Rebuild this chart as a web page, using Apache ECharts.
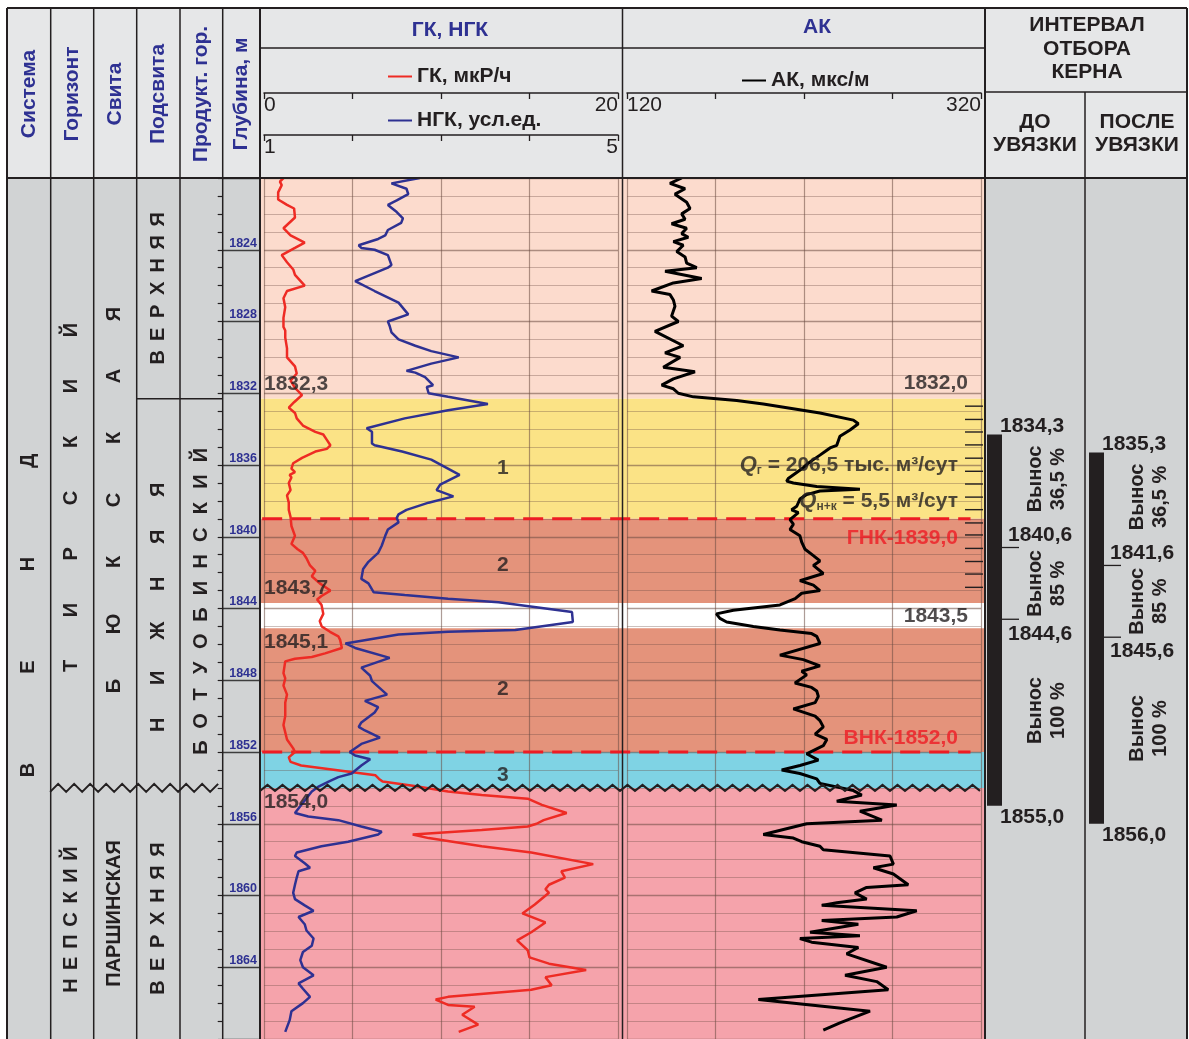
<!DOCTYPE html>
<html><head><meta charset="utf-8">
<script src="https://cdn.jsdelivr.net/npm/echarts@6/dist/echarts.min.js"></script>
<style>html,body{margin:0;padding:0;background:#fff}#c{width:1189px;height:1039px}</style>
</head><body><div id="c"></div>
<script>
// ---------------- DATA ----------------
const depthMin = 1820, depthMax = 1868;
const gkRange = [0, 20], ngkRange = [1, 5], akRange = [120, 320];

// [depth, value]
const gkCurve = [[1820.0,1.1],[1820.2,0.9],[1820.4,1.0],[1820.8,0.8],[1821.2,0.8],[1821.5,1.3],[1821.7,1.7],[1822.2,1.75],[1822.8,1.1],[1823.2,1.5],[1823.6,2.3],[1823.9,1.75],[1824.3,1.0],[1824.7,1.3],[1825.1,1.65],[1825.4,1.75],[1826.0,2.3],[1826.3,1.3],[1826.7,1.1],[1827.2,1.2],[1827.8,1.1],[1828.3,1.1],[1828.5,1.2],[1828.9,1.2],[1829.5,1.3],[1830.0,1.3],[1830.5,1.75],[1830.9,1.85],[1831.3,1.5],[1831.7,1.75],[1832.1,2.15],[1832.5,1.7],
[1832.8,1.4],[1833.1,1.75],[1833.4,1.85],[1833.8,2.2],[1834.15,2.9],[1834.3,3.35],[1834.6,3.55],[1834.9,3.75],[1835.1,3.55],[1835.25,2.9],[1835.6,2.15],[1835.9,1.65],[1836.2,1.55],[1836.4,1.75],[1836.55,1.45],[1836.7,1.55],[1837.0,1.4],[1837.4,1.5],[1837.7,1.3],[1838.1,1.4],[1838.5,1.4],[1838.9,1.5],[1839.4,1.55],[1839.95,1.75],[1840.4,1.55],[1840.7,1.9],[1840.9,2.2],[1841.2,2.4],[1841.6,2.6],[1841.9,2.9],[1842.2,2.7],[1842.6,3.15],[1843.0,3.75],[1843.3,3.25],[1843.5,3.0],[1843.8,3.25],[1844.3,3.35],[1844.7,3.15],
[1845.0,3.26],[1845.3,3.73],[1845.55,4.2],[1845.75,4.3],[1846.2,4.4],[1846.5,3.45],[1846.7,2.7],[1846.8,1.75],[1846.95,1.2],[1847.6,1.1],[1847.9,1.2],[1848.3,1.1],[1848.8,1.3],[1849.25,1.2],[1850.0,1.2],[1850.5,1.1],[1851.3,1.3],[1851.8,1.65],[1852.0,1.75],[1852.3,1.4],[1852.55,1.5],[1852.75,2.1],[1853.1,4.8],[1853.3,6.3],[1853.5,6.5],[1853.65,6.7],[1853.9,8.5],[1854.2,10.4],[1854.4,12.3],[1854.6,14.9],[1854.95,15.7],[1855.4,17.1],[1855.8,15.8],[1856.0,15.4],[1856.15,14.9],[1856.35,12.3],[1856.6,8.4],[1856.8,9.3],[1857.25,12.3],[1857.6,15.1],[1858.25,18.6],[1858.65,16.8],[1859.0,17.0],[1859.4,16.1],[1859.65,15.9],[1859.85,16.1],[1860.5,15.3],[1861.0,14.6],[1861.5,15.9],[1862.05,15.1],[1862.5,14.3],[1863.05,14.9],[1863.45,15.0],[1863.8,16.1],[1864.15,18.2],[1864.55,15.9],[1865.0,16.25],[1865.25,15.1],[1865.65,10.4],[1865.8,9.7],[1866.1,10.4],[1866.2,11.9],[1866.65,11.2],[1867.2,12.1],[1867.6,11.0]];

const ngkCurve = [[1820.0,2.76],[1820.3,2.44],[1820.6,2.61],[1820.9,2.63],[1821.25,2.5],[1821.5,2.4],[1821.9,2.5],[1822.25,2.57],[1822.5,2.55],[1822.9,2.4],[1823.2,2.37],[1823.4,2.29],[1823.75,2.07],[1823.9,2.1],[1824.0,2.25],[1824.3,2.4],[1824.85,2.44],[1825.0,2.4],[1825.75,2.03],[1826.3,2.25],[1826.95,2.52],[1827.6,2.63],[1828.0,2.4],[1828.25,2.42],[1828.6,2.44],[1829.0,2.52],[1829.35,2.71],[1829.65,2.89],[1830.0,3.2],[1830.35,2.89],[1830.75,2.61],[1830.85,2.71],[1831.1,2.82],[1831.55,2.91],[1831.65,2.84],[1832.0,2.86],[1832.2,3.08],[1832.6,3.53],[1832.95,3.08],[1833.4,2.59],[1833.95,2.16],[1834.15,2.22],[1834.8,2.22],[1834.9,2.25],[1835.25,2.56],[1835.7,2.89],[1836.55,3.21],[1837.1,2.99],[1837.4,2.95],[1837.75,3.14],[1838.1,2.86],[1838.5,2.61],[1838.75,2.52],[1838.95,2.5],[1839.2,2.52],[1839.6,2.4],[1839.95,2.37],[1840.5,2.33],[1840.9,2.29],[1841.4,2.18],[1841.8,2.12],[1842.35,2.1],[1842.6,2.18],[1843.1,2.24],[1843.25,2.59],[1843.45,3.08],[1843.65,3.65],[1844.2,4.48],[1844.75,4.49],[1845.2,3.84],[1845.3,3.08],[1845.45,2.52],[1845.95,1.92],[1846.2,2.03],[1846.75,2.42],[1847.3,2.1],[1847.75,2.2],[1848.05,2.22],[1848.8,2.39],[1849.15,2.14],[1849.5,2.29],[1849.8,2.25],[1850.35,2.1],[1850.6,2.07],[1850.8,2.14],[1851.2,2.31],[1851.55,2.1],[1852.0,1.97],[1852.2,2.03],[1852.4,2.2],[1852.75,2.1],[1853.2,1.99],[1853.4,1.84],[1853.65,1.73],[1853.95,1.61],[1854.2,1.54],[1854.7,1.46],[1855.4,1.35],[1855.6,1.5],[1855.8,1.84],[1856.15,2.1],[1856.45,2.33],[1856.6,2.29],[1857.0,1.95],[1857.25,1.65],[1857.6,1.37],[1857.8,1.35],[1858.2,1.46],[1858.45,1.52],[1858.65,1.39],[1859.0,1.37],[1859.4,1.35],[1859.85,1.33],[1860.2,1.35],[1860.55,1.46],[1860.85,1.56],[1861.2,1.39],[1861.6,1.46],[1861.95,1.48],[1862.4,1.56],[1862.8,1.54],[1863.15,1.44],[1863.6,1.41],[1864.0,1.44],[1864.45,1.56],[1864.9,1.39],[1865.2,1.44],[1865.65,1.52],[1866.0,1.44],[1866.45,1.31],[1866.95,1.29],[1867.6,1.24]];

const akCurve = [[1820.0,150.9],[1820.3,144.3],[1820.6,152.8],[1820.9,147.1],[1821.35,153.7],[1821.7,155.6],[1822.0,150.9],[1822.3,152.8],[1822.55,145.2],[1822.8,153.7],[1823.1,150.9],[1823.3,154.6],[1823.55,146.2],[1823.75,151.8],[1824.1,148.1],[1824.4,152.8],[1824.75,153.7],[1825.0,159.4],[1825.2,141.5],[1825.6,162.2],[1825.85,146.2],[1826.3,133.9],[1826.5,144.3],[1826.8,146.2],[1827.15,147.1],[1827.7,145.2],[1828.0,149.0],[1828.55,135.8],[1829.35,151.8],[1829.75,141.5],[1830.0,150.0],[1830.55,140.5],[1830.8,158.4],[1831.2,146.2],[1831.55,139.6],[1831.75,146.2],[1832.0,149.0],[1832.2,157.5],[1832.4,182.0],[1832.6,197.0],
[1833.1,229.0],[1833.5,247.9],[1833.7,250.7],[1834.05,246.0],[1834.4,240.3],[1834.9,238.5],[1835.05,234.7],[1835.25,231.9],[1835.45,229.0],[1835.7,225.3],[1835.9,222.4],[1836.15,219.6],[1836.75,211.1],[1836.9,210.2],[1837.0,214.0],[1837.2,227.2],[1837.35,251.6],[1837.45,229.0],[1837.65,221.5],[1837.9,217.7],[1838.3,215.9],[1838.5,213.0],[1838.65,216.8],[1839.05,212.1],[1839.3,214.0],[1839.6,212.1],[1839.95,217.7],[1840.3,218.7],[1840.7,220.6],[1841.05,225.3],[1841.35,229.0],[1841.6,225.3],[1842.05,230.9],[1842.45,217.7],[1842.7,225.3],[1843.0,229.0],[1843.15,218.7],[1843.45,215.0],[1843.8,206.4],[1844.1,180.1],[1844.3,170.5],[1844.55,172.5],[1844.75,176.3],
[1845.0,191.4],[1845.2,206.4],[1845.4,224.3],[1845.55,227.2],[1845.95,229.0],[1846.6,206.4],[1846.85,219.6],[1847.2,229.0],[1847.5,218.7],[1847.7,221.5],[1848.15,214.9],[1848.4,224.3],[1848.6,227.2],[1848.9,228.1],[1849.25,226.3],[1849.6,214.0],[1850.0,226.3],[1850.25,229.0],[1850.6,230.9],[1851.0,226.3],[1851.3,232.9],[1851.65,230.9],[1852.1,221.5],[1852.45,228.1],[1852.75,217.7],[1853.0,207.4],[1853.2,217.7],[1853.5,227.2],[1853.75,229.0],[1854.15,247.9],[1854.4,252.6],[1854.75,238.5],[1854.95,272.4],[1855.3,251.6],[1855.8,264.0],[1856.0,221.5],[1856.6,197.0],[1856.8,214.0],[1857.0,218.7],[1857.25,229.0],[1857.45,230.9],[1857.8,268.6],[1858.25,270.5],[1858.45,259.2],[1858.8,270.5],[1859.4,278.9],[1859.55,255.4],[1859.85,248.8],[1860.2,255.4],[1860.4,238.5],[1860.55,230.0],[1860.85,283.7],[1861.2,272.4],[1861.4,230.0],[1861.6,250.7],[1862.05,223.4],[1862.25,251.6],[1862.4,217.7],[1862.6,224.3],[1862.9,250.7],[1863.25,244.1],[1864.0,266.7],[1864.45,243.2],[1864.8,261.1],[1865.25,267.6],[1865.8,194.2],[1866.45,257.3],[1867.1,240.3],[1867.5,230.9]];

// lithology / saturation zones [top, bottom, kind]
const zones = [[1820,1832.3,'cap'],[1832.3,1839.0,'gas'],[1839.0,1843.7,'oil'],[1843.7,1845.1,'tight'],[1845.1,1852.0,'oil'],[1852.0,1854.0,'water'],[1854.0,1868,'lower']];
const unconformityDepth = 1854.0;
const fluidContacts = [['ГНК', 1839.0], ['ВНК', 1852.0]];
const gkMarksAbove = [1832.3, 1843.7];
const gkMarksBelow = [1845.1, 1854.0];
const akMarksAbove = [1832.0];
const akMarksBelow = [1843.5];
const layerNames = ['1', '2', '2', '3'];
const layerDepths = [1836.2, 1841.6, 1848.5, 1853.3];
const flowRates = [['г', '206,5 тыс. м³/сут', 1836.0], ['н+к', '5,5 м³/сут', 1838.0]];
const rulerTicks = [1832.72, 1833.46, 1834.16, 1834.88, 1835.62, 1836.35, 1837.06, 1837.79, 1838.49, 1839.23, 1839.9, 1840.65, 1841.38, 1842.08, 1842.82];

// stratigraphy [column, top, bottom, name]
const stratUnits = [
  [0, 1820, 1868, 'ВЕНД'],
  [1, 1820, 1854.0, 'ТИРСКИЙ'], [1, 1854.0, 1868, 'НЕПСКИЙ'],
  [2, 1820, 1854.0, 'БЮКСКАЯ'], [2, 1854.0, 1868, 'ПАРШИНСКАЯ'],
  [3, 1820, 1832.3, 'ВЕРХНЯЯ'], [3, 1832.3, 1854.0, 'НИЖНЯЯ'], [3, 1854.0, 1868, 'ВЕРХНЯЯ'],
  [4, 1832.3, 1854.0, 'БОТУОБИНСКИЙ']
];
const headerColumns = ['Система', 'Горизонт', 'Свита', 'Подсвита', 'Продукт. гор.', 'Глубина, м'];

// core intervals
const coreBefore = [1834.3, 1840.6, 1844.6, 1855.0];
const coreAfter = [1835.3, 1841.6, 1845.6, 1856.0];
const coreRecovery = ['36,5 %', '85 %', '100 %'];

// ---------------- STYLE ----------------
const F = '"Liberation Sans", Arial, Helvetica, sans-serif';
const INK = '#231f20', BLUE = '#2e3192', RED = '#ee2b24';
const zoneColors = {cap:'#fcdbcd', gas:'#fbe386', oil:'#e4937b', tight:'#ffffff', water:'#7fd3e4', lower:'#f5a3ab'};
const letterSpacing = [103, 56, 22, 62, 0, 23, 47, 23, 26.6];
const letterShift = [7, 15, 6, 17, 0, 0, 14, 5, 8];
const recoveryShift = [-12, 0, -2];
const fmt = d => d.toFixed(1).replace('.', ',');
const gridLine = 'rgba(105,75,65,0.55)';
const gridLineMinor = 'rgba(105,75,65,0.35)';

function T(text, x, y, o) {
  o = o || {};
  const align = o.align || 'center', va = o.va || 'middle';
  return {type:'text', x:x, y:y, rotation:o.rot || 0, z:o.z == null ? 60 : o.z,
    style:{text:text, fill:o.color || INK, font:(o.weight || 'bold') + ' ' + (o.size || 20) + 'px ' + F,
      align:align, verticalAlign:va, textAlign:align, textVerticalAlign:va, lineHeight:o.lh}};
}
function L(x1, y1, x2, y2, w) {
  return {type:'line', z:50, shape:{x1:x1, y1:y1, x2:x2, y2:y2}, style:{stroke:INK, lineWidth:w || 1.5}};
}

// ---------------- LAYOUT GRAPHICS ----------------
const g = [];
g.push({type:'rect', z:-10, shape:{x:7, y:8, width:1180, height:170}, style:{fill:'#e6e7e8'}});
g.push({type:'rect', z:-10, shape:{x:7, y:178, width:253, height:870}, style:{fill:'#d1d3d4'}});
g.push({type:'rect', z:-10, shape:{x:985, y:178, width:202, height:870}, style:{fill:'#d1d3d4'}});
[50.7, 93.7, 136.7, 180, 222.7].forEach(x => g.push(L(x, 8, x, 1045, 1.5)));
g.push(L(7, 8, 7, 1045, 2));
g.push(L(260, 8, 260, 1045, 2));
g.push(L(622.5, 8, 622.5, 1045, 1.5));
g.push(L(985, 8, 985, 1045, 2));
g.push(L(1187, 8, 1187, 1045, 2));
g.push(L(1085, 92, 1085, 1045, 1.5));
g.push(L(7, 8, 1187, 8, 2));
g.push(L(7, 178, 1187, 178, 2));
g.push(L(260, 48, 985, 48, 1.5));
g.push(L(985, 92, 1187, 92, 1.5));
const hx = [29, 72, 115, 158, 201, 241];
headerColumns.forEach((t, i) => g.push(T(t, hx[i], 94, {rot:Math.PI/2, color:BLUE, size:21})));
g.push(T('ГК, НГК', 450, 30, {color:BLUE, size:21}));
g.push(T('АК', 817, 27, {color:BLUE, size:21}));
g.push(T('ИНТЕРВАЛ\nОТБОРА\nКЕРНА', 1087, 49, {size:21, lh:23.5}));
g.push(T('ДО\nУВЯЗКИ', 1035, 134, {size:21, lh:23}));
g.push(T('ПОСЛЕ\nУВЯЗКИ', 1137, 134, {size:21, lh:23}));

// ---------------- CHART ----------------
const chart = echarts.init(document.getElementById('c'), null, {renderer:'canvas'});
const H = 869, TOP = 178;
const yAx = (gi, extra) => Object.assign({gridIndex:gi, type:'value', inverse:true, min:depthMin, max:depthMax, interval:4,
  axisLine:{show:false}, axisTick:{show:false}, axisLabel:{show:false}, splitLine:{show:false}}, extra || {});
const hideX = (gi, max) => ({gridIndex:gi, type:'value', min:0, max:max, show:false});
const scaleX = (gi, range, interval, offset, split) => ({gridIndex:gi, type:'value', min:range[0], max:range[1], interval:interval,
  position:'top', offset:offset,
  axisLine:{show:true, onZero:false, lineStyle:{color:INK, width:1.5}},
  axisTick:{show:true, inside:true, length:6, lineStyle:{color:INK, width:1.3}},
  axisLabel:{inside:true, margin:2, fontSize:21, fontFamily:F, color:INK,
    formatter:v => (v === range[0] || v === range[1]) ? String(v) : '', alignMinLabel:'left', alignMaxLabel:'right'},
  splitLine:{show:split, lineStyle:{color:gridLine, width:1.2}}});

const trackY = gi => yAx(gi, {splitLine:{show:true, lineStyle:{color:gridLine, width:1.3}},
  minorTick:{show:false, splitNumber:4}, minorSplitLine:{show:true, lineStyle:{color:gridLineMinor, width:1}}});

function zigzag(params, api) {
  const a = api.coord([api.value(0), api.value(2)]), b = api.coord([api.value(1), api.value(2)]);
  const period = params.seriesIndex === 0 ? 16 : 15, amp = params.seriesIndex === 0 ? 4 : 3;
  const pts = [];
  let i = 0;
  for (let x = a[0]; x <= b[0] + 0.1; x += period / 2, i++) pts.push([x, a[1] + (i % 2 ? -amp : amp)]);
  return {type:'polyline', shape:{points:pts}, style:{stroke:INK, lineWidth:2, fill:null}, z2:10};
}

const labelItem = (x, d, text, pos, align, va, extra) => ({value:[x, d], label:Object.assign({show:true, formatter:text,
  position:pos, align:align, verticalAlign:va, fontFamily:F, fontWeight:'bold', fontSize:21, color:INK}, extra || {})});

const gkLabels = []
  .concat(gkMarksAbove.map(d => labelItem(gkRange[0], d, fmt(d), [0, -4], 'left', 'bottom')))
  .concat(gkMarksBelow.map(d => labelItem(gkRange[0], d, fmt(d), [0, 4], 'left', 'top')))
  .concat(layerNames.map((n, i) => labelItem(13.5, layerDepths[i], n, [0, 0], 'center', 'middle')));

const akLabels = []
  .concat(akMarksAbove.map(d => labelItem(akRange[1], d, fmt(d), [-13, 1], 'right', 'bottom')))
  .concat(akMarksBelow.map(d => labelItem(akRange[1], d, fmt(d), [-13, 6], 'right', 'top')))
  .concat(fluidContacts.map(c => labelItem(akRange[1], c[1], c[0] + '-' + fmt(c[1]),
    c[0] === 'ГНК' ? [-23, 9] : [-23, -3], 'right', c[0] === 'ГНК' ? 'top' : 'bottom', {color:'#ed1c24'})))
  .concat(flowRates.map(q => labelItem(akRange[1], q[2], '{q|Q}{s|' + q[0] + '}{t| = ' + q[1] + '}', [-23, 0], 'right', 'middle',
    {rich:{q:{fontFamily:F, fontWeight:'bold', fontStyle:'italic', fontSize:22, color:INK, lineHeight:24},
           s:{fontFamily:F, fontWeight:'bold', fontSize:12, color:INK, verticalAlign:'bottom', lineHeight:24, padding:[12,0,0,0]},
           t:{fontFamily:F, fontWeight:'bold', fontSize:21, color:INK, lineHeight:24}}})));

const legendText = {fontFamily:F, fontWeight:'bold', fontSize:21, color:INK};
const option = {
  animation:false,
  textStyle:{fontFamily:F},
  graphic:{elements:g},
  legend:[
    {data:['ГК, мкР/ч'], left:388, top:66, padding:0, icon:'rect', itemWidth:24, itemHeight:2, itemGap:0, selectedMode:false, textStyle:legendText},
    {data:['НГК, усл.ед.'], left:388, top:110, padding:0, icon:'rect', itemWidth:24, itemHeight:2, itemGap:0, selectedMode:false, textStyle:legendText},
    {data:['АК, мкс/м'], left:742, top:70, padding:0, icon:'rect', itemWidth:24, itemHeight:2, itemGap:0, selectedMode:false, textStyle:legendText}
  ],
  grid:[
    {left:7, top:TOP, width:215.7, height:H},
    {left:222.7, top:TOP, width:37.3, height:H},
    {left:260, top:TOP, width:725, height:H},
    {left:264, top:TOP, width:354, height:H},
    {left:627, top:TOP, width:354, height:H},
    {left:985, top:TOP, width:202, height:H}
  ],
  xAxis:[
    hideX(0, 5), hideX(1, 1), hideX(2, 1),
    scaleX(3, gkRange, 5, 85, true),
    scaleX(3, ngkRange, 1, 43, false),
    scaleX(4, akRange, 50, 85, true),
    hideX(5, 2)
  ],
  yAxis:[
    yAx(0),
    yAx(1, {position:'right',
      axisTick:{show:true, inside:true, length:5, lineStyle:{color:INK, width:1.2}},
      minorTick:{show:true, splitNumber:4, length:5, lineStyle:{color:INK, width:1.2}},
      splitLine:{show:true, lineStyle:{color:'#3d3d3d', width:1.3}},
      axisLabel:{show:true, inside:true, margin:3, verticalAlign:'bottom', color:BLUE, fontWeight:'bold', fontSize:12.5, fontFamily:F,
        showMinLabel:false, showMaxLabel:false, formatter:v => (v % 4 === 0 ? String(v) : '')}}),
    yAx(2), trackY(3), trackY(4), yAx(5)
  ],
  series:[
    {type:'custom', name:'zigStrat', xAxisIndex:0, yAxisIndex:0, z:8, silent:true, data:[[1, 5, unconformityDepth]], renderItem:zigzag},
    {type:'custom', name:'strat', xAxisIndex:0, yAxisIndex:0, z:6, silent:true, data:stratUnits.map(u => [u[0], u[1]]),
      renderItem:function(params, api){
        const k = params.dataIndex, u = stratUnits[k];
        const a = api.coord([u[0], u[1]]), b = api.coord([u[0] + 1, u[2]]);
        const cx = (a[0] + b[0]) / 2, cy = (a[1] + b[1]) / 2 + letterShift[k];
        const ch = [];
        if (u[1] > depthMin && u[1] !== unconformityDepth)
          ch.push({type:'line', shape:{x1:a[0], y1:a[1], x2:b[0], y2:a[1]}, style:{stroke:INK, lineWidth:1.5}});
        const sp = letterSpacing[k];
        if (!sp) ch.push(T(u[3], cx, cy, {rot:Math.PI/2, size:20}));
        else {
          const n = u[3].length;
          for (let i = 0; i < n; i++) ch.push(T(u[3][i], cx, cy + ((n - 1) / 2 - i) * sp, {rot:Math.PI/2, size:20}));
        }
        return {type:'group', children:ch};
      }},
    {type:'custom', name:'zones', xAxisIndex:2, yAxisIndex:2, z:-5, silent:true, data:zones.map(z => [z[0], z[1]]),
      renderItem:function(params, api){
        const a = api.coord([0, api.value(0)]), b = api.coord([1, api.value(1)]);
        return {type:'rect', shape:{x:a[0], y:a[1], width:b[0] - a[0], height:b[1] - a[1]},
          style:{fill:zoneColors[zones[params.dataIndex][2]]}};
      }},
    {type:'custom', name:'contacts', xAxisIndex:2, yAxisIndex:2, z:3, silent:true, data:fluidContacts.map(c => [c[1]]),
      renderItem:function(params, api){
        const a = api.coord([0.003, api.value(0)]), b = api.coord([0.98, api.value(0)]);
        return {type:'line', shape:{x1:a[0], y1:a[1], x2:b[0], y2:b[1]}, style:{stroke:'#ed1c24', lineWidth:3, lineDash:[20, 9]}};
      }},
    {type:'custom', name:'zigTrack', xAxisIndex:2, yAxisIndex:2, z:8, silent:true, data:[[0, 1, unconformityDepth]], renderItem:zigzag},
    {type:'custom', name:'ruler', xAxisIndex:5, yAxisIndex:4, z:7, silent:true, data:rulerTicks.map(d => [akRange[1], d]),
      renderItem:function(params, api){
        const p = api.coord([api.value(0), api.value(1)]);
        return {type:'line', shape:{x1:p[0] - 16, y1:p[1], x2:p[0] + 2, y2:p[1]}, style:{stroke:INK, lineWidth:1.4}};
      }},
    {type:'line', name:'ГК, мкР/ч', xAxisIndex:3, yAxisIndex:3, z:5, silent:true, symbol:'none', color:RED,
      lineStyle:{color:RED, width:2.5}, data:gkCurve.map(p => [p[1], p[0]])},
    {type:'line', name:'НГК, усл.ед.', xAxisIndex:4, yAxisIndex:3, z:5, silent:true, symbol:'none', color:BLUE,
      lineStyle:{color:BLUE, width:2.5}, data:ngkCurve.map(p => [p[1], p[0]])},
    {type:'line', name:'АК, мкс/м', xAxisIndex:5, yAxisIndex:4, z:5, silent:true, symbol:'none', color:'#000',
      lineStyle:{color:'#000', width:3}, data:akCurve.map(p => [p[1], p[0]])},
    {type:'scatter', name:'gkLabels', xAxisIndex:3, yAxisIndex:3, z:10, silent:true, symbolSize:0.1, itemStyle:{color:'transparent'}, data:gkLabels},
    {type:'scatter', name:'akLabels', xAxisIndex:5, yAxisIndex:4, z:10, silent:true, symbolSize:0.1, itemStyle:{color:'transparent'}, data:akLabels},
    {type:'custom', name:'core', xAxisIndex:6, yAxisIndex:5, z:6, silent:true, data:[[0], [1]],
      renderItem:function(params, api){
        const col = params.dataIndex;
        const ds = col === 0 ? coreBefore : coreAfter;
        const xL = api.coord([col, depthMin])[0] + (col === 0 ? 0 : 1);
        const ys = ds.map(d => api.coord([col, d])[1]);
        const ch = [{type:'rect', shape:{x:xL + 2, y:ys[0], width:15, height:ys[3] - ys[0]}, style:{fill:INK}}];
        [1, 2].forEach(i => ch.push({type:'line', shape:{x1:xL + 17, y1:ys[i], x2:xL + 34, y2:ys[i]}, style:{stroke:INK, lineWidth:1.3}}));
        ch.push(T(fmt(ds[0]), xL + 15, ys[0] + 2, {align:'left', va:'bottom', size:21}));
        ch.push(T(fmt(ds[1]), xL + 23, ys[1] - 2, {align:'left', va:'bottom', size:21}));
        ch.push(T(fmt(ds[2]), xL + 23, ys[2] + 4, {align:'left', va:'top', size:21}));
        ch.push(T(fmt(ds[3]), xL + 15, ys[3] + 1, {align:'left', va:'top', size:21}));
        for (let i = 0; i < 3; i++)
          ch.push(T('Вынос\n' + coreRecovery[i], xL + 62, (ys[i] + ys[i + 1]) / 2 + recoveryShift[i], {rot:Math.PI/2, size:20, lh:23}));
        return {type:'group', children:ch};
      }}
  ]
};
chart.setOption(option);
</script></body></html>
